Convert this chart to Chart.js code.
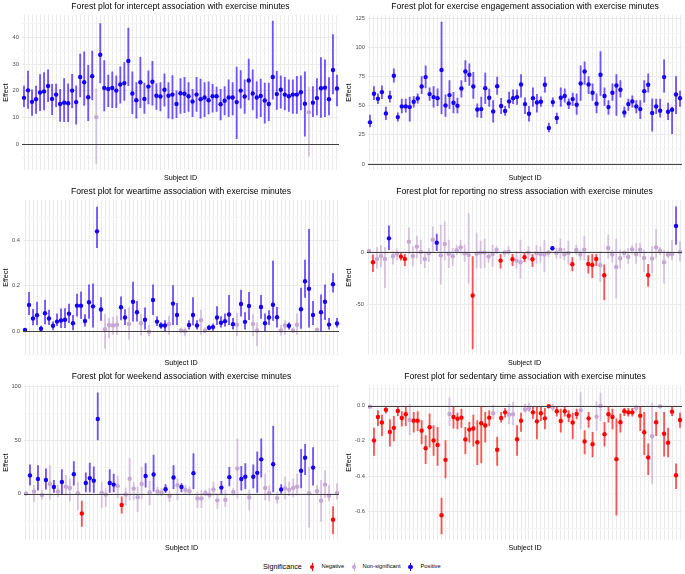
<!DOCTYPE html>
<html>
<head>
<meta charset="utf-8">
<title>Forest plots</title>
<script src="https://cdn.jsdelivr.net/npm/chart.js@4.4.1/dist/chart.umd.min.js"></script>
<style>
  html, body { margin: 0; padding: 0; background: #fff; }
  body { position: relative; width: 685px; height: 574px; overflow: hidden; font-family: "Liberation Sans", Arial, Helvetica, sans-serif; }
  canvas { position: absolute; }
  .lg { position: absolute; white-space: nowrap; color: #000; line-height: 1; }
  .lg-title { font-size: 7.2px; color: #000; }
  .lg-text { font-size: 5.75px; }
  .lg-key { position: absolute; width: 10px; height: 10px; }
  .lg-key::before { content: ""; position: absolute; left: 4.5px; top: 1px; width: 1px; height: 8px; background: var(--c); }
  .lg-key::after { content: ""; position: absolute; left: 2.9px; top: 2.9px; width: 4.2px; height: 4.2px; border-radius: 50%; background: var(--c); }
</style>
</head>
<body>
<canvas id="c1" width="342" height="185" style="left:0;top:0"></canvas>
<canvas id="c2" width="341" height="185" style="left:344px;top:0"></canvas>
<canvas id="c3" width="342" height="185" style="left:0;top:185px"></canvas>
<canvas id="c4" width="341" height="185" style="left:344px;top:185px"></canvas>
<canvas id="c5" width="342" height="185" style="left:0;top:370px"></canvas>
<canvas id="c6" width="341" height="185" style="left:344px;top:370px"></canvas>

<div class="lg lg-title" style="left:263px;top:563px">Significance</div>
<span class="lg-key" style="left:307px;top:562px;--c:#ff0000"></span>
<div class="lg lg-text" style="left:321.5px;top:564px">Negative</div>
<span class="lg-key" style="left:349px;top:562px;--c:#c4a7d3"></span>
<div class="lg lg-text" style="left:362.5px;top:564px">Non-significant</div>
<span class="lg-key" style="left:405.5px;top:562px;--c:#1400f5"></span>
<div class="lg lg-text" style="left:420.5px;top:564px">Positive</div>

<script>
// subjects on the x axis (labels are hidden in the original)
const subjects = Array.from({ length: 79 }, (_, i) => 'S' + String(i + 1).padStart(2, '0'));

// intercept
const interceptEst = [17.4, 20.2, 15.9, 16.9, 19.4, 19.8, 21.8, 17.0, 18.6, 15.1, 15.6, 15.4, 20.1, 15.8, 25.2, 23.2, 17.6, 25.5, 10.2, 33.5, 21.1, 20.7, 21.1, 20.1, 22.4, 22.9, 31.2, 19.0, 16.5, 23.2, 17.0, 21.6, 23.4, 18.2, 17.9, 20.4, 18.2, 18.6, 15.1, 19.1, 18.9, 18.0, 16.0, 18.6, 16.9, 17.5, 16.5, 18.0, 18.0, 15.0, 16.3, 17.5, 17.5, 15.8, 20.1, 17.9, 23.9, 19.0, 17.5, 18.1, 16.4, 15.1, 25.2, 18.8, 20.4, 18.6, 18.0, 18.6, 18.6, 19.5, 15.2, 12.0, 15.6, 17.3, 21.0, 21.2, 16.9, 27.8, 20.9];
const interceptLo = [14.1, 13.4, 10.8, 11.6, 12.6, 12.9, 16.0, 11.1, 14.1, 8.6, 8.5, 8.5, 13.7, 7.6, 17.7, 14.6, 8.9, 16.6, -7.2, 23.0, 12.5, 14.1, 13.7, 13.7, 15.4, 16.4, 21.9, 11.5, 9.8, 13.7, 11.6, 15.1, 14.7, 13.1, 12.5, 14.3, 9.8, 9.5, 10.0, 11.6, 11.9, 12.3, 10.4, 12.3, 9.8, 10.4, 11.4, 12.0, 12.3, 9.1, 11.0, 10.4, 11.0, 2.1, 13.5, 11.6, 16.6, 12.9, 9.8, 10.4, 7.9, 8.9, 16.9, 13.1, 13.5, 12.9, 12.3, 11.6, 11.6, 12.9, 3.1, -4.4, 10.4, 11.0, 10.1, 10.4, 11.0, 18.9, 14.4];
const interceptHi = [21.8, 27.4, 20.4, 21.8, 26.1, 26.8, 27.9, 22.4, 22.5, 20.6, 24.6, 22.6, 26.2, 21.9, 33.7, 34.6, 29.5, 34.9, 20.8, 45.1, 31.3, 25.9, 27.1, 25.6, 29.0, 30.6, 43.5, 27.1, 23.1, 32.5, 22.9, 27.5, 31.0, 22.7, 23.1, 26.4, 23.1, 25.7, 20.0, 24.6, 25.1, 23.1, 20.6, 25.1, 24.4, 23.1, 23.4, 22.4, 21.4, 20.6, 21.6, 24.1, 23.1, 28.9, 27.6, 24.1, 31.9, 27.9, 23.5, 24.4, 22.9, 22.9, 46.1, 27.3, 25.6, 25.1, 24.1, 24.1, 25.4, 25.6, 27.1, 21.4, 21.6, 24.6, 32.4, 31.6, 25.0, 41.0, 25.9];

// exercise engagement
const engageEst = [35.8, 60.4, 56.1, 61.8, 43.5, 57.5, 75.8, 40.3, 49.5, 49.5, 48.9, 53.5, 56.4, 66.6, 74.7, 60.1, 57.5, 56.6, 80.9, 50.3, 59.2, 52.6, 50.1, 64.9, 79.5, 76.7, 66.6, 46.9, 47.2, 65.2, 56.9, 45.2, 66.9, 49.8, 45.5, 53.8, 56.6, 57.5, 68.4, 51.5, 43.2, 56.6, 52.9, 53.5, 68.1, 30.9, 53.2, 39.5, 56.9, 58.4, 52.1, 55.8, 50.9, 69.2, 79.5, 68.4, 61.2, 51.8, 76.7, 58.4, 48.9, 61.2, 67.5, 63.8, 44.3, 51.5, 53.8, 49.5, 47.2, 62.6, 68.1, 43.8, 49.5, 45.8, 74.7, 44.9, 46.6, 59.8, 56.6];
const engageLo = [31.8, 55.2, 51.8, 56.1, 38.0, 53.2, 70.4, 36.9, 43.8, 44.6, 36.9, 48.9, 52.3, 60.4, 65.5, 54.6, 48.9, 50.1, 43.2, 40.9, 47.5, 43.8, 43.8, 57.5, 70.7, 67.5, 56.4, 40.3, 39.8, 51.8, 49.5, 36.0, 59.8, 43.2, 41.8, 48.3, 51.8, 51.2, 57.5, 43.2, 36.9, 49.5, 44.6, 49.5, 61.8, 27.5, 49.5, 34.6, 49.5, 53.2, 47.5, 50.3, 42.6, 54.6, 68.4, 60.4, 54.6, 43.8, 58.9, 50.3, 42.6, 54.6, 41.8, 57.5, 40.3, 46.1, 48.9, 43.8, 38.9, 53.2, 61.8, 28.3, 43.2, 40.3, 61.8, 38.0, 26.0, 43.2, 49.5];
const engageHi = [42.0, 66.6, 60.4, 67.2, 48.9, 62.6, 81.8, 44.0, 55.8, 55.8, 57.5, 58.1, 60.4, 75.2, 84.4, 65.5, 66.6, 64.6, 122.1, 59.5, 71.8, 61.5, 56.6, 71.8, 89.0, 86.1, 78.7, 51.8, 57.5, 78.1, 64.4, 54.6, 74.7, 56.4, 49.5, 61.8, 63.8, 63.8, 76.9, 56.9, 49.5, 65.5, 59.8, 57.8, 74.7, 35.2, 56.9, 43.8, 65.5, 64.6, 56.1, 60.9, 60.4, 84.4, 87.8, 75.2, 68.9, 60.4, 96.7, 65.5, 54.6, 68.9, 76.9, 71.8, 48.9, 55.8, 58.6, 54.6, 54.6, 71.8, 77.5, 56.1, 55.8, 55.8, 89.5, 52.3, 48.9, 75.2, 62.6];

// weartime
const wearEst = [0.006, 0.116, 0.057, 0.071, 0.012, 0.080, 0.057, 0.025, 0.043, 0.048, 0.051, 0.078, 0.036, 0.113, 0.113, 0.046, 0.128, 0.110, 0.439, 0.096, 0.010, 0.028, 0.026, 0.029, 0.106, 0.061, 0.033, 0.130, 0.084, 0.036, 0.051, -0.001, 0.138, 0.043, 0.026, 0.026, 0.033, 0.122, 0.072, 0.004, 0.001, 0.028, 0.072, 0.026, 0.049, 0.003, 0.016, 0.019, 0.061, 0.038, 0.045, 0.074, 0.032, 0.029, 0.120, 0.042, 0.112, 0.033, 0.004, 0.107, 0.036, 0.061, 0.117, 0.062, 0.004, 0.026, 0.025, 0.004, 0.029, 0.097, 0.220, 0.187, 0.072, 0.007, 0.084, 0.130, 0.030, 0.207, 0.035];
const wearLo = [0.001, 0.074, 0.028, 0.028, 0.002, 0.033, 0.030, 0.007, 0.025, 0.016, 0.016, 0.038, 0.007, 0.067, 0.057, 0.023, 0.057, 0.019, 0.367, 0.048, -0.075, -0.028, -0.013, -0.013, 0.051, 0.030, -0.035, 0.045, 0.045, -0.016, 0.010, -0.020, 0.074, 0.025, 0.013, 0.001, -0.013, 0.030, 0.030, -0.006, -0.020, 0.010, 0.028, 0.010, -0.013, -0.006, 0.007, 0.004, 0.030, 0.019, 0.023, 0.030, 0.010, -0.020, 0.067, 0.010, 0.052, -0.020, -0.064, 0.057, 0.001, 0.030, 0.048, 0.019, -0.016, -0.013, 0.010, -0.006, -0.013, 0.013, 0.149, 0.019, 0.030, -0.001, 0.001, 0.052, 0.010, 0.172, 0.019];
const wearHi = [0.013, 0.172, 0.097, 0.129, 0.023, 0.138, 0.094, 0.042, 0.077, 0.099, 0.100, 0.120, 0.071, 0.164, 0.174, 0.074, 0.204, 0.209, 0.545, 0.149, 0.074, 0.059, 0.062, 0.067, 0.152, 0.096, 0.103, 0.216, 0.132, 0.074, 0.103, 0.028, 0.204, 0.065, 0.039, 0.048, 0.067, 0.201, 0.123, 0.016, 0.016, 0.048, 0.149, 0.048, 0.094, 0.016, 0.028, 0.033, 0.109, 0.065, 0.077, 0.158, 0.057, 0.080, 0.181, 0.083, 0.172, 0.074, 0.038, 0.158, 0.077, 0.091, 0.309, 0.106, 0.028, 0.048, 0.038, 0.016, 0.077, 0.190, 0.313, 0.448, 0.132, 0.016, 0.161, 0.204, 0.057, 0.254, 0.057];

// reporting no stress
const stressEst = [0.9, -9.8, -6.6, -3.8, -6.6, 13.0, -4.1, -1.6, -4.4, -6.6, 9.8, -3.8, 5.1, 0.0, -6.6, -1.3, 11.7, 8.9, -3.2, 7.6, -1.6, -4.1, 1.6, 4.4, -1.3, -2.8, -41.5, -1.6, -0.6, -0.6, -4.4, -1.9, 1.9, -8.2, -0.6, 0.3, -7.0, -8.2, -9.8, -5.1, -0.6, -7.0, -1.3, -1.9, -2.5, -0.6, 3.5, -0.9, 2.2, -2.2, -0.9, -11.7, 1.9, -2.5, 2.2, -11.4, -12.3, -6.6, -12.7, -22.2, 3.8, -2.5, -14.2, -6.0, -0.9, -4.7, 2.5, -2.2, 2.2, -5.7, -22.2, -6.3, 4.4, 0.9, -9.8, -2.5, -1.9, 24.7, 0.0];
const stressLo = [-0.3, -18.7, -15.5, -13.9, -33.9, 2.2, -11.7, -7.6, -7.9, -13.0, -1.6, -13.3, -6.0, -11.1, -14.9, -9.2, -0.3, 1.3, -30.7, -7.6, -14.9, -13.0, -2.8, -2.2, -9.2, -29.7, -92.4, -15.5, -15.5, -14.9, -9.8, -13.9, -1.6, -15.5, -4.4, -2.8, -13.0, -15.5, -25.0, -9.2, -7.6, -13.9, -10.8, -9.8, -18.7, -4.4, 1.6, -6.0, -6.0, -7.6, -11.7, -18.0, -2.8, -7.6, -7.6, -20.3, -24.4, -13.0, -28.2, -45.6, -6.0, -9.8, -44.0, -15.5, -4.4, -10.8, -2.2, -10.8, -4.4, -18.7, -32.9, -20.3, -6.0, -2.8, -29.7, -5.4, -7.6, 7.3, -8.5];
const stressHi = [2.5, -2.8, 4.1, 6.0, 4.1, 25.0, 0.3, 2.8, -1.6, -2.2, 23.1, 5.1, 15.2, 11.1, 0.3, 3.5, 23.7, 17.1, 25.6, 28.8, 11.4, 3.5, 6.0, 11.1, 6.6, 36.7, -4.4, 18.0, 10.4, 12.3, 0.9, 6.6, 5.1, -2.2, 1.9, 5.1, -2.2, 0.3, 11.4, -1.3, 5.1, -2.2, 6.0, 5.1, 11.4, 1.9, 5.4, 3.5, 12.3, 3.5, 10.4, -5.4, 6.6, 1.9, 14.6, -3.5, -2.2, -2.2, 0.3, -12.3, 16.1, 1.9, 12.3, 1.9, 0.9, 3.5, 6.0, 8.2, 8.2, 1.9, -11.7, 5.1, 21.8, 4.1, 1.9, 0.9, 11.4, 43.0, 9.8];

// weekend
const weekendEst = [0.3, 17.2, 2.1, 13.8, -1.2, 12.9, 9.2, 6.4, 2.1, 11.0, 6.7, 5.5, 18.4, 0.6, -18.4, 10.1, 14.7, 12.3, 69.9, 0.9, -0.6, 10.1, 8.6, 7.4, -10.4, -0.6, 14.1, 4.9, -3.1, 9.2, 16.6, 1.2, 18.1, 2.1, 1.2, 4.3, -2.1, 15.3, 8.0, 6.4, 3.7, 2.5, 19.3, -4.3, -4.3, 0.6, -0.9, 4.0, -6.1, 5.8, -5.5, 15.6, 1.8, 23.6, 13.8, 16.0, -3.4, 16.0, 19.6, 32.2, 5.5, 0.6, 27.6, -4.0, 4.0, 5.2, 3.7, 5.5, 6.7, 21.5, 33.7, 0.6, 24.5, 2.5, -6.4, 8.6, -1.8, -24.2, 0.9];
const weekendLo = [-0.6, 8.0, -7.4, 3.4, -4.9, 4.3, -4.9, 1.2, -2.8, 0.2, -1.2, -6.7, 8.0, -15.0, -30.4, 1.8, 1.8, 1.2, 50.3, -12.9, -12.0, 1.2, 1.8, -3.7, -18.1, -10.4, -5.8, -5.8, -16.6, -4.9, 6.1, -10.4, 2.5, -1.2, -1.8, 1.2, -7.4, 4.9, -5.8, 1.8, -0.5, -0.6, 4.9, -12.9, -12.9, -1.8, -4.3, -1.2, -13.5, 0.3, -12.0, 7.4, -1.2, -4.3, 3.4, 4.9, -15.0, 5.5, 1.2, 15.6, -5.8, -6.7, 1.8, -8.9, 0.3, -4.9, -1.8, -2.8, -1.2, 5.5, 17.8, -31.3, 8.0, -0.6, -25.8, -3.7, -6.7, -37.4, -4.9];
const weekendHi = [1.2, 27.0, 8.0, 26.4, 3.4, 23.3, 26.4, 12.6, 8.0, 22.7, 17.2, 14.1, 30.1, 11.0, -6.7, 19.6, 28.8, 25.2, 94.5, 11.0, 4.9, 22.7, 18.4, 16.6, -2.8, 5.5, 33.1, 10.4, 6.4, 24.8, 28.2, 11.7, 36.2, 6.1, 4.9, 8.6, 2.5, 26.4, 14.1, 9.5, 8.0, 6.4, 37.7, 1.8, 3.4, 3.4, 4.9, 11.0, 0.3, 11.7, 3.4, 24.8, 4.9, 51.5, 25.8, 28.2, 3.4, 27.0, 39.3, 51.5, 18.4, 7.4, 63.2, 1.2, 8.6, 15.6, 11.0, 14.1, 18.4, 41.7, 46.3, 24.8, 43.3, 8.0, 12.6, 21.8, 8.0, -12.0, 9.5];

// sedentary time
const sedentEst = [-0.006, -0.198, -0.064, -0.096, -0.023, -0.149, -0.126, -0.030, -0.070, -0.049, -0.081, -0.085, -0.085, -0.142, -0.242, -0.123, -0.198, -0.223, -0.623, -0.308, -0.047, -0.064, -0.074, -0.068, -0.192, -0.136, -0.130, -0.208, -0.100, -0.113, -0.068, -0.043, -0.251, -0.070, -0.038, -0.051, -0.049, -0.191, -0.085, -0.021, -0.017, -0.038, -0.089, -0.043, -0.072, -0.003, -0.011, -0.032, -0.087, -0.032, -0.057, -0.096, -0.047, -0.026, -0.204, -0.072, -0.219, -0.062, -0.002, -0.162, -0.049, -0.064, -0.304, -0.094, -0.032, -0.038, -0.038, -0.013, -0.057, -0.151, -0.294, -0.174, -0.094, -0.004, -0.160, -0.211, -0.034, -0.396, -0.081];
const sedentLo = [-0.013, -0.283, -0.113, -0.170, -0.042, -0.230, -0.200, -0.057, -0.117, -0.113, -0.166, -0.151, -0.142, -0.217, -0.330, -0.236, -0.283, -0.340, -0.730, -0.411, -0.113, -0.128, -0.132, -0.123, -0.274, -0.208, -0.230, -0.336, -0.325, -0.208, -0.113, -0.075, -0.340, -0.094, -0.066, -0.104, -0.110, -0.283, -0.147, -0.038, -0.034, -0.072, -0.189, -0.085, -0.132, -0.006, -0.028, -0.060, -0.151, -0.060, -0.091, -0.189, -0.075, -0.132, -0.274, -0.123, -0.292, -0.142, -0.085, -0.230, -0.094, -0.132, -0.623, -0.151, -0.057, -0.060, -0.060, -0.034, -0.142, -0.279, -0.392, -0.443, -0.170, -0.011, -0.287, -0.292, -0.057, -0.472, -0.123];
const sedentHi = [0.002, -0.128, -0.028, -0.053, -0.011, -0.079, -0.060, -0.004, -0.034, -0.004, 0.009, -0.038, -0.034, -0.085, -0.170, -0.047, -0.113, -0.123, -0.525, -0.198, 0.045, -0.004, -0.042, -0.019, -0.123, -0.094, -0.053, -0.085, -0.009, -0.038, -0.028, 0.004, -0.179, -0.038, -0.015, 0.009, 0.020, -0.113, -0.042, 0.009, 0.015, -0.009, -0.009, -0.009, -0.015, -0.001, 0.009, -0.009, -0.019, -0.009, -0.028, -0.042, -0.019, 0.075, -0.142, -0.038, -0.151, 0.023, 0.072, -0.094, -0.009, -0.019, -0.075, -0.047, -0.015, -0.015, -0.015, 0.004, -0.009, -0.038, -0.217, 0.015, -0.038, 0.004, -0.038, -0.128, -0.009, -0.330, -0.042];

const pointColor = { 'Negative': '#ff0000', 'Non-significant': '#c4a7d3', 'Positive': '#1400f5' };
const barColor = { 'Negative': 'rgba(255,0,0,0.65)', 'Non-significant': 'rgba(196,167,211,0.65)', 'Positive': 'rgba(45,0,255,0.65)' };

Chart.defaults.font.family = '"Liberation Sans", Arial, Helvetica, sans-serif';

// horizontal reference line at 0, drawn on top like geom_hline
const zeroLine = {
  id: 'zeroLine',
  afterDatasetsDraw(chart) {
    const { ctx, chartArea, scales: { y } } = chart;
    const py = Math.round(y.getPixelForValue(0)) + 0.5;
    ctx.save();
    ctx.strokeStyle = '#404040';
    ctx.lineWidth = 1;
    ctx.beginPath();
    ctx.moveTo(chartArea.left, py);
    ctx.lineTo(chartArea.right, py);
    ctx.stroke();
    ctx.restore();
  }
};

function forestPlot(id, title, est, lo, hi, ax) {
  const sig = est.map((_, i) => lo[i] > 0 ? 'Positive' : hi[i] < 0 ? 'Negative' : 'Non-significant');
  const isMajor = v => Math.abs(v / ax.major - Math.round(v / ax.major)) < 1e-6;

  return new Chart(document.getElementById(id), {
    type: 'bar',
    data: {
      labels: subjects,
      datasets: [
        {
          type: 'line',
          data: est,
          showLine: false,
          pointRadius: 2.2,
          pointHoverRadius: 2.2,
          pointBorderWidth: 0,
          pointBackgroundColor: sig.map(s => pointColor[s]),
          order: 1
        },
        {
          type: 'bar',
          data: lo.map((v, i) => [v, hi[i]]),
          backgroundColor: sig.map(s => barColor[s]),
          barThickness: 1.2,
          borderWidth: 0,
          order: 2
        }
      ]
    },
    options: {
      responsive: false,
      animation: false,
      events: [],
      layout: { padding: { right: 3 } },
      plugins: {
        legend: { display: false },
        tooltip: { enabled: false },
        title: {
          display: true,
          text: title,
          color: '#000',
          fullSize: false,
          font: { size: 8.6, weight: 'normal' },
          padding: { top: 1.4, bottom: 3.4 }
        }
      },
      scales: {
        x: {
          offset: true,
          border: { display: false },
          grid: { offset: false, drawTicks: false, color: '#ebebeb', lineWidth: 1 },
          ticks: { display: false, autoSkip: false },
          title: { display: true, text: 'Subject ID', color: '#000', font: { size: 7.2 }, padding: { top: 3.5, bottom: 2.5 } }
        },
        y: {
          min: ax.min,
          max: ax.max,
          afterFit: s => { s.width = ax.w; },
          border: { display: false },
          grid: {
            drawTicks: false,
            color: c => isMajor(c.tick.value) ? '#ebebeb' : '#f4f4f4',
            lineWidth: 1
          },
          ticks: {
            stepSize: ax.minor,
            includeBounds: false,
            autoSkip: false,
            padding: 3,
            color: '#4d4d4d',
            font: { size: 5.75 },
            callback: v => isMajor(v) ? (Math.abs(v) < 1e-9 ? 0 : v).toFixed(ax.dec) : ''
          },
          title: { display: true, text: 'Effect', color: '#000', font: { size: 7.2 }, padding: { top: ax.tpad, bottom: 0 } }
        }
      }
    },
    plugins: [zeroLine]
  });
}

forestPlot('c1', 'Forest plot for intercept association with exercise minutes',
  interceptEst, interceptLo, interceptHi,
  { min: -9.7, max: 48.3, minor: 5, major: 10, dec: 0, w: 22, tpad: 1.4 });
forestPlot('c2', 'Forest plot for exercise engagement association with exercise minutes',
  engageEst, engageLo, engageHi,
  { min: -5.5, max: 128, minor: 12.5, major: 25, dec: 0, w: 24, tpad: 0.4 });
forestPlot('c3', 'Forest plot for weartime association with exercise minutes',
  wearEst, wearLo, wearHi,
  { min: -0.105, max: 0.576, minor: 0.1, major: 0.2, dec: 1, w: 23, tpad: 1.4 });
forestPlot('c4', 'Forest plot for reporting no stress association with exercise minutes',
  stressEst, stressLo, stressHi,
  { min: -98.5, max: 49.4, minor: 25, major: 50, dec: 0, w: 23, tpad: 0.4 });
forestPlot('c5', 'Forest plot for weekend association with exercise minutes',
  weekendEst, weekendLo, weekendHi,
  { min: -43.5, max: 101.6, minor: 25, major: 50, dec: 0, w: 24, tpad: 1.4 });
forestPlot('c6', 'Forest plot for sedentary time association with exercise minutes',
  sedentEst, sedentLo, sedentHi,
  { min: -0.766, max: 0.117, minor: 0.1, major: 0.2, dec: 1, w: 24, tpad: 0.4 });
</script>
</body>
</html>
